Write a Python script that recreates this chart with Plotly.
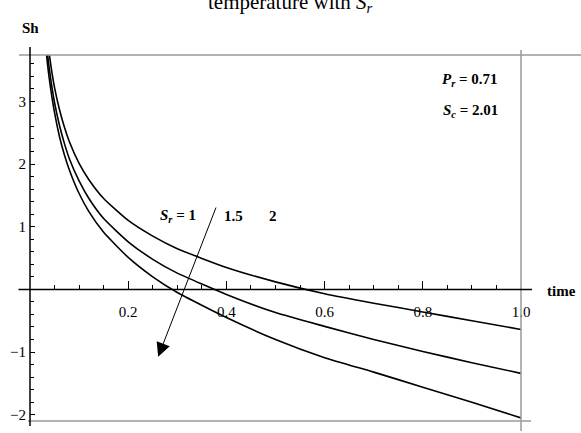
import plotly.graph_objects as go

# ---- data ----
time = [0.03, 0.035, 0.04, 0.05, 0.06, 0.07, 0.08, 0.10, 0.12, 0.15, 0.20, 0.25,
        0.30, 0.40, 0.50, 0.60, 0.70, 0.80, 0.90, 1.00]
sh_top = [4.41, 4.05, 3.71, 3.22, 2.87, 2.59, 2.36, 2.01, 1.75, 1.45, 1.10, 0.85,
          0.65, 0.35, 0.12, -0.07, -0.22, -0.36, -0.50, -0.64]
sh_mid = [4.20, 3.80, 3.48, 2.98, 2.62, 2.33, 2.09, 1.73, 1.45, 1.13, 0.76, 0.48,
          0.26, -0.08, -0.37, -0.59, -0.80, -0.99, -1.17, -1.34]
sh_bot = [4.04, 3.64, 3.32, 2.82, 2.44, 2.15, 1.91, 1.53, 1.24, 0.91, 0.51, 0.20,
          -0.05, -0.45, -0.80, -1.09, -1.32, -1.56, -1.80, -2.05]
series_names = ["S_r = 1", "S_r = 1.5", "S_r = 2"]

x_tick_vals = [0.2, 0.4, 0.6, 0.8, 1.0]
x_tick_text = ["0.2", "0.4", "0.6", "0.8", "1.0"]
y_tick_vals = [-2, -1, 1, 2, 3]
y_tick_text = ["\u22122", "\u22121", "1", "2", "3"]

X_RANGE = [0, 1]
Y_RANGE = [-2.1, 3.74]

FONT = "Liberation Serif"
W, H = 581, 433
ML, MR, MT, MB = 30, 60, 55, 10
PW, PH = W - ML - MR, H - MT - MB


def px_x(p):
    return (p - ML) / PW


def px_y(p):
    return (H - MB - p) / PH


fig = go.Figure()
for ys, nm in zip([sh_top, sh_mid, sh_bot], series_names):
    fig.add_trace(go.Scatter(x=time, y=ys, mode="lines", name=nm,
                             line=dict(color="black", width=1.6, shape="spline", smoothing=0.5),
                             showlegend=False))

y0_paper = (0 - Y_RANGE[0]) / (Y_RANGE[1] - Y_RANGE[0])

tickfont = dict(family=FONT, size=15, color="black")
fig.update_layout(
    width=W, height=H, autosize=False,
    margin=dict(l=ML, r=MR, t=MT, b=MB),
    paper_bgcolor="white", plot_bgcolor="white",
    font=dict(family=FONT, color="black", size=15),
    xaxis=dict(range=X_RANGE, anchor="free", position=y0_paper, side="bottom",
               showgrid=False, zeroline=False, showline=False,
               ticks="inside", ticklen=8, tickwidth=1.2, tickcolor="black",
               tickvals=x_tick_vals, ticktext=x_tick_text, ticklabelstandoff=12,
               minor=dict(dtick=0.05, tick0=0, ticks="inside", ticklen=4,
                          tickwidth=1, tickcolor="black", showgrid=False),
               tickfont=tickfont),
    yaxis=dict(range=Y_RANGE, showgrid=False, zeroline=False, showline=False,
               ticks="inside", ticklen=5, tickwidth=1.2, tickcolor="black",
               tickvals=y_tick_vals, ticktext=y_tick_text, ticklabelstandoff=3,
               minor=dict(dtick=0.2, tick0=0, ticks="inside", ticklen=4,
                          tickwidth=1, tickcolor="black", showgrid=False),
               tickfont=tickfont),
)

gray = "#9a9a9a"
shapes = [
    # frame lines (gray)
    dict(type="line", xref="paper", yref="paper", x0=px_x(19), x1=px_x(581), y0=1, y1=1,
         line=dict(color=gray, width=1.5)),
    dict(type="line", xref="paper", yref="paper", x0=1, x1=1, y0=px_y(50), y1=px_y(433),
         line=dict(color=gray, width=1.5)),
    dict(type="line", xref="paper", yref="paper", x0=px_x(28), x1=px_x(531), y0=0, y1=0,
         line=dict(color=gray, width=1.5)),
    # axes (black)
    dict(type="line", xref="paper", yref="paper", x0=px_x(18.5), x1=px_x(532),
         y0=y0_paper, y1=y0_paper, line=dict(color="black", width=1.5)),
    dict(type="line", xref="paper", yref="paper", x0=0, x1=0, y0=px_y(47), y1=px_y(428),
         line=dict(color="black", width=1.5)),
]
fig.update_layout(shapes=shapes)

bold = dict(family=FONT, size=15, color="black")
ann = [
    dict(text="temperature with <i>S</i><sub><i>r</i></sub>", xref="paper", yref="paper",
         x=px_x(290), y=px_y(2.5), xanchor="center", yanchor="middle", showarrow=False,
         font=dict(family=FONT, size=21, color="black")),
    dict(text="<b>Sh</b>", xref="paper", yref="paper", x=0, y=px_y(28),
         xanchor="center", yanchor="middle", showarrow=False, font=bold),
    dict(text="<b>time</b>", xref="paper", yref="paper", x=px_x(561), y=px_y(292),
         xanchor="center", yanchor="middle", showarrow=False, font=bold),
    dict(text="<b><i>P</i><sub><i>r</i></sub> = 0.71</b>", xref="paper", yref="paper",
         x=px_x(500), y=px_y(80), xanchor="right", yanchor="middle", showarrow=False,
         font=bold),
    dict(text="<b><i>S</i><sub><i>c</i></sub> = 2.01</b>", xref="paper", yref="paper",
         x=px_x(500), y=px_y(111), xanchor="right", yanchor="middle", showarrow=False,
         font=bold),
    dict(text="<b><i>S</i><sub><i>r</i></sub> = 1</b>", x=0.301, y=1.17,
         xanchor="center", yanchor="middle", showarrow=False, font=bold),
    dict(text="<b>1.5</b>", x=0.415, y=1.17, xanchor="center", yanchor="middle",
         showarrow=False, font=bold),
    dict(text="<b>2</b>", x=0.494, y=1.17, xanchor="center", yanchor="middle",
         showarrow=False, font=bold),
    # S_r arrow
    dict(text="", x=0.261, y=-1.075, ax=0.380, ay=1.33, axref="x", ayref="y",
         showarrow=True, arrowhead=2, arrowsize=2.8, arrowwidth=1, arrowcolor="black",
         standoff=0, startstandoff=0),
]
fig.update_layout(annotations=ann)

fig.write_html("out.html")
